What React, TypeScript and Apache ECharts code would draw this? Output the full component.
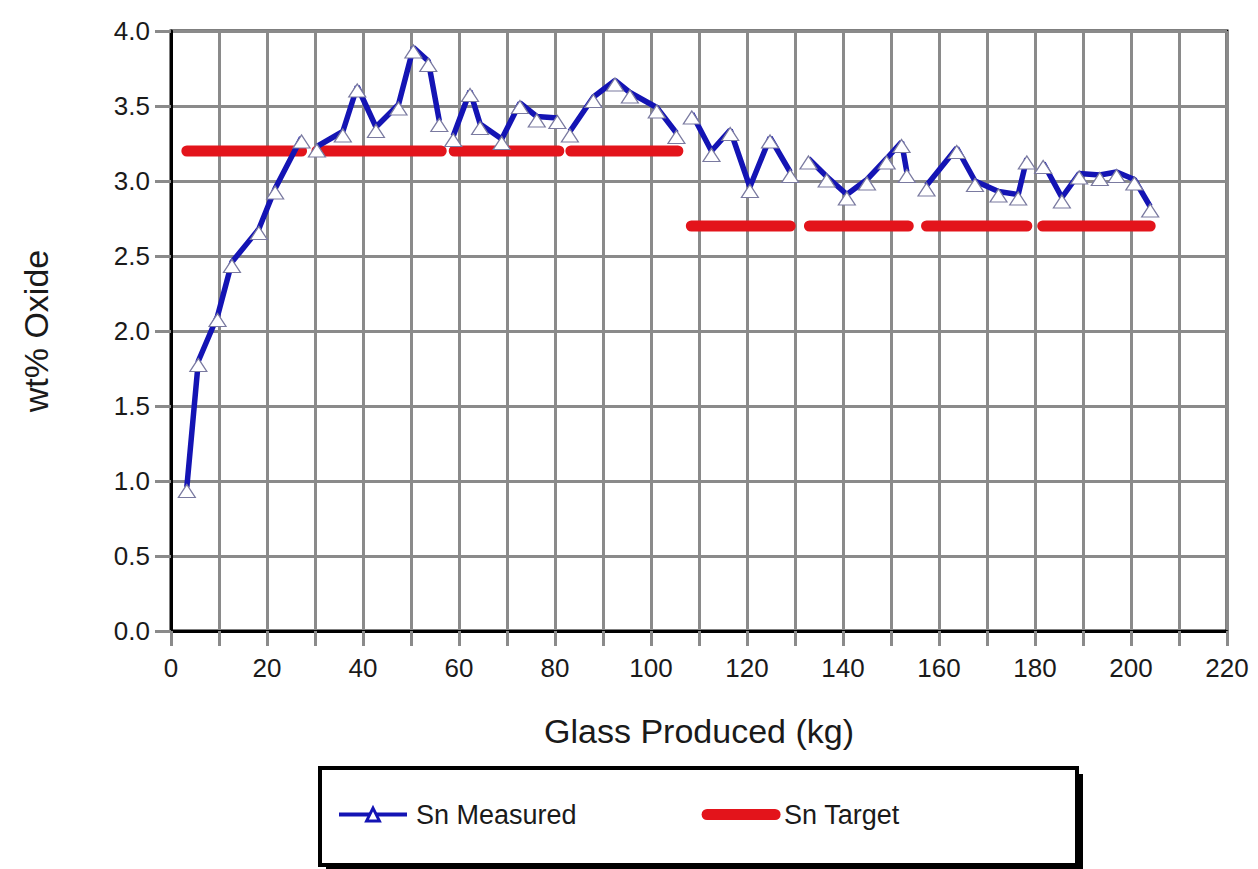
import React, { useEffect, useRef } from "react";
import * as echarts from "echarts";

// Sn measured, one list of [glass kg, wt%] pairs per run segment
const measuredRun1 = [[3.3, 0.96], [5.7, 1.8], [9.7, 2.1], [12.7, 2.46], [18.3, 2.68], [21.7, 2.95], [27.2, 3.29]];
const measuredRun2 = [[30.4, 3.23], [35.8, 3.33], [38.8, 3.63], [42.7, 3.36], [47.4, 3.51], [50.5, 3.89], [53.6, 3.8], [55.9, 3.4]];
const measuredRun3 = [[58.8, 3.3], [62.3, 3.6], [64.4, 3.38], [68.9, 3.28], [72.7, 3.52], [76.2, 3.43], [80.5, 3.42]];
const measuredRun4 = [[83.1, 3.33], [88.0, 3.56], [92.5, 3.67], [95.6, 3.59], [101.2, 3.49], [105.3, 3.32]];
const measuredRun5 = [[108.5, 3.45], [112.6, 3.2], [116.5, 3.34], [120.6, 2.96], [124.8, 3.29], [129.0, 3.06]];
const measuredRun6 = [[132.8, 3.15], [136.6, 3.03], [140.8, 2.91], [145.0, 3.01], [149.1, 3.15], [152.2, 3.26], [153.3, 3.06]];
const measuredRun7 = [[157.4, 2.97], [163.7, 3.22], [167.5, 3.0], [172.4, 2.93], [176.5, 2.91], [178.3, 3.15]];
const measuredRun8 = [[181.7, 3.12], [185.6, 2.89], [189.2, 3.05], [193.5, 3.04], [197.0, 3.06], [200.7, 3.01], [204.0, 2.83]];
const measuredRuns = [measuredRun1, measuredRun2, measuredRun3, measuredRun4, measuredRun5, measuredRun6, measuredRun7, measuredRun8];

// Sn target: [start kg, end kg, wt%]
const targetSegments = [
  [3.3, 27.2, 3.2],
  [30.4, 56.3, 3.2],
  [59.0, 80.8, 3.2],
  [83.3, 105.6, 3.2],
  [108.4, 129.0, 2.7],
  [133.0, 153.6, 2.7],
  [157.4, 178.3, 2.7],
  [181.6, 204.0, 2.7],
];

const xTicks = { min: 0, max: 220, step: 10 };
const yTicks = { min: 0, max: 4, step: 0.5 };

function withBreaks(groups: number[][][]) {
  const out: any[] = [];
  groups.forEach((g, i) => {
    if (i > 0) {
      const prev = groups[i - 1];
      const gapX = (prev[prev.length - 1][0] + g[0][0]) / 2;
      out.push([gapX, null]);
    }
    g.forEach((p) => out.push(p));
  });
  return out;
}

export default function App() {
  const ref = useRef<HTMLDivElement>(null);
  useEffect(() => {
    document.body.style.margin = "0";
    const chart = echarts.init(ref.current!, null, { renderer: "svg" });
    const font = "'Liberation Sans', Arial, sans-serif";
    const gray = "#8a8a8a";
    const blue = "#1414b4";
    const red = "#e3141b";
    const targetData = withBreaks(targetSegments.map((s) => [[s[0], s[2]], [s[1], s[2]]]));
    chart.setOption({
      animation: false,
      backgroundColor: "#ffffff",
      textStyle: { fontFamily: font },
      grid: {
        left: 171,
        right: 31,
        top: 31,
        bottom: 238,
        show: true,
        borderColor: "#000",
        borderWidth: 3,
        backgroundColor: "transparent",
      },
      xAxis: {
        type: "value",
        min: xTicks.min,
        max: xTicks.max,
        interval: xTicks.step,
        name: "Glass Produced (kg)",
        nameLocation: "middle",
        nameGap: 83,
        nameTextStyle: { fontSize: 34, color: "#1a1a1a", fontFamily: font },
        axisLine: { show: true, onZero: false, lineStyle: { color: "#000", width: 3 } },
        axisTick: { show: true, length: 15, lineStyle: { color: gray, width: 3 } },
        axisLabel: {
          margin: 24,
          fontSize: 26,
          color: "#1a1a1a",
          fontFamily: font,
          formatter: (v: number) => (v % 20 === 0 ? String(v) : ""),
        },
        splitLine: { show: true, lineStyle: { color: gray, width: 3 } },
      },
      yAxis: {
        type: "value",
        min: yTicks.min,
        max: yTicks.max,
        interval: yTicks.step,
        name: "wt% Oxide",
        nameLocation: "middle",
        nameGap: 118,
        nameRotate: 90,
        nameTextStyle: { fontSize: 34, color: "#1a1a1a", fontFamily: font },
        axisLine: { show: true, lineStyle: { color: "#000", width: 3 } },
        axisTick: { show: true, length: 16, lineStyle: { color: gray, width: 3 } },
        axisLabel: {
          margin: 21,
          fontSize: 26,
          color: "#1a1a1a",
          fontFamily: font,
          formatter: (v: number) => v.toFixed(1),
        },
        splitLine: { show: true, lineStyle: { color: gray, width: 3 } },
      },
      legend: {
        left: 337,
        top: 801,
        padding: 0,
        itemGap: 125,
        itemWidth: 68,
        itemHeight: 16,
        z: 20,
        textStyle: { fontSize: 27, color: "#1a1a1a", fontFamily: font, padding: [0, 0, 0, 4] },
        data: [
          {
            name: "Sn Measured",
            lineStyle: { color: blue, width: 4 },
            itemStyle: { color: "#ffffff", borderColor: blue, borderWidth: 3 },
          },
          {
            name: "Sn Target",
            lineStyle: { color: red, width: 11, cap: "round" },
            itemStyle: { opacity: 0 },
          },
        ],
      },
      graphic: [
        { type: "rect", z: 1, shape: { x: 326, y: 774, width: 757, height: 97 }, style: { fill: "#000" } },
        { type: "rect", z: 2, shape: { x: 320, y: 768, width: 757, height: 97 }, style: { fill: "#fff", stroke: "#000", lineWidth: 4 } },
      ],
      series: [
        {
          name: "Sn Target",
          type: "line",
          data: targetData,
          symbol: "none",
          connectNulls: false,
          lineStyle: { color: red, width: 11, cap: "round" },
          itemStyle: { color: red },
          z: 2,
        },
        {
          name: "Sn Measured",
          type: "line",
          data: withBreaks(measuredRuns),
          connectNulls: false,
          symbol: "triangle",
          symbolSize: [17, 13],
          symbolOffset: [0, 4],
          showSymbol: true,
          lineStyle: { color: blue, width: 5.5 },
          itemStyle: { color: "#ffffff", borderColor: "#7a7aa0", borderWidth: 1.2 },
          z: 3,
        },
      ],
    });
    return () => chart.dispose();
  }, []);
  return <div ref={ref} style={{ width: 1258, height: 869 }} />;
}
